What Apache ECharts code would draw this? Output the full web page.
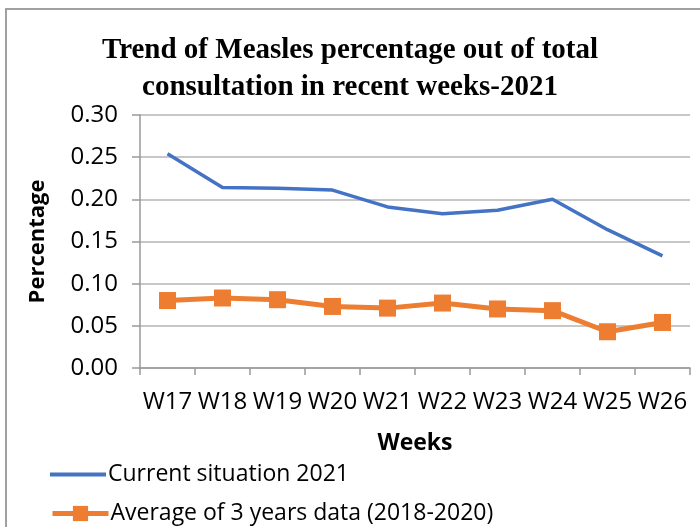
<!DOCTYPE html>
<html>
<head>
<meta charset="utf-8">
<script src="https://cdn.jsdelivr.net/npm/echarts@6/dist/echarts.min.js"></script>
<style>
  html, body { margin: 0; padding: 0; background: #fff; }
  #chart { width: 700px; height: 527px; }
</style>
</head>
<body>
<div id="chart"></div>
<script>
const weeks = ['W17', 'W18', 'W19', 'W20', 'W21', 'W22', 'W23', 'W24', 'W25', 'W26']
const current2021 = [0.254, 0.214, 0.213, 0.211, 0.191, 0.183, 0.187, 0.200, 0.164, 0.133]
const avg3Years = [0.080, 0.083, 0.081, 0.073, 0.071, 0.077, 0.070, 0.068, 0.043, 0.054]
const seriesNames = ['Current situation 2021', 'Average of 3 years data (2018-2020)']

const chart = echarts.init(document.getElementById('chart'))

const labelFont = '"Open Sans", "Noto Sans", sans-serif'
const legendText = { fontFamily: labelFont, fontSize: 23, color: '#000', padding: [0, 0, 0, -3] }

chart.setOption({
  animation: false,
  title: {
    text: 'Trend of Measles percentage out of total\nconsultation in recent weeks-2021',
    left: 'center',
    top: 27,
    padding: [5, 15, 5, 5],
    textStyle: {
      fontFamily: '"Liberation Serif", "DejaVu Serif", serif',
      fontWeight: 'bold',
      fontSize: 29,
      lineHeight: 37,
      color: '#000'
    }
  },
  graphic: [
    {
      type: 'rect',
      shape: { x: 6, y: 9, width: 720, height: 560 },
      style: { fill: 'none', stroke: '#a0a0a0', lineWidth: 2 },
      silent: true
    }
  ],
  legend: [
    {
      left: 45,
      top: 458,
      itemWidth: 56,
      itemHeight: 4,
      icon: 'rect',
      data: [seriesNames[0]],
      textStyle: legendText
    },
    {
      left: 45,
      top: 497,
      itemWidth: 56,
      itemHeight: 19,
      lineStyle: { width: 5 },
      data: [seriesNames[1]],
      textStyle: legendText
    }
  ],
  grid: { left: 140, right: 10, top: 115, height: 253 },
  xAxis: {
    type: 'category',
    data: weeks,
    name: 'Weeks',
    nameLocation: 'middle',
    nameGap: 64,
    nameTextStyle: { fontFamily: labelFont, fontSize: 23, fontWeight: 'bold', color: '#000' },
    axisLine: { lineStyle: { color: '#999', width: 1.5 } },
    axisTick: { show: true, alignWithLabel: false, length: 7, lineStyle: { color: '#999', width: 1.5 } },
    axisLabel: { fontFamily: labelFont, fontSize: 24, color: '#000', margin: 22, interval: 0 }
  },
  yAxis: {
    type: 'value',
    min: 0,
    max: 0.3,
    interval: 0.05,
    name: 'Percentage',
    nameLocation: 'middle',
    nameGap: 91,
    nameRotate: 90,
    nameTextStyle: { fontFamily: labelFont, fontSize: 22, fontWeight: 'bold', color: '#000' },
    axisLine: { show: true, lineStyle: { color: '#999', width: 1.5 } },
    axisTick: { show: true, length: 8, lineStyle: { color: '#999', width: 1.5 } },
    axisLabel: {
      fontFamily: labelFont,
      fontSize: 24,
      color: '#000',
      margin: 22,
      formatter: v => v.toFixed(2)
    },
    splitLine: { lineStyle: { color: '#b4b4b4', width: 1.5 } }
  },
  series: [
    {
      name: seriesNames[0],
      type: 'line',
      data: current2021,
      symbol: 'none',
      lineStyle: { color: '#4472C4', width: 3.5 },
      itemStyle: { color: '#4472C4' }
    },
    {
      name: seriesNames[1],
      type: 'line',
      data: avg3Years,
      symbol: 'rect',
      symbolSize: 17,
      lineStyle: { color: '#ED7D31', width: 5 },
      itemStyle: { color: '#ED7D31' }
    }
  ]
})

window.addEventListener('resize', () => {
  chart.resize()
})
</script>
</body>
</html>
